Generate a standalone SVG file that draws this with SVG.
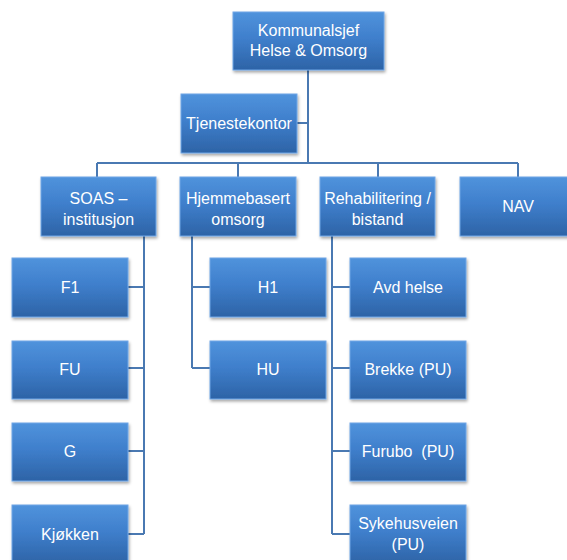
<svg xmlns="http://www.w3.org/2000/svg" width="567" height="560" viewBox="0 0 567 560">
<defs>
<linearGradient id="g" x1="0" y1="0" x2="0" y2="1">
<stop offset="0" stop-color="#5093dc"/>
<stop offset="0.45" stop-color="#3f7fcc"/>
<stop offset="1" stop-color="#2d63a6"/>
</linearGradient>
<filter id="sh" x="-10%" y="-10%" width="125%" height="130%">
<feDropShadow dx="1" dy="2" stdDeviation="1.5" flood-color="#000" flood-opacity="0.35"/>
</filter>
<style>
.b{fill:url(#g);stroke:#6fa6e6;stroke-width:1;filter:url(#sh)}
.t{font-family:"Liberation Sans",Arial,sans-serif;font-size:16px;fill:#fff;text-anchor:middle}
.c{fill:none;stroke:#4a79b2;stroke-width:2}
</style>
</defs>
<rect width="567" height="560" fill="#fff"/>
<g id="connectors">
<path class="c" d="M308,70 V163 M297,123 H308 M97,163 H518 M97,163 V177 M238,163 V177 M378,163 V177 M518,163 V177"/>
<path class="c" d="M144,236 V534 M128,287 H144 M128,368 H144 M128,451 H144 M128,534 H144"/>
<path class="c" d="M192,236 V368 M192,287 H210 M192,368 H210"/>
<path class="c" d="M332,236 V534 M332,287 H350 M332,368 H350 M332,451 H350 M332,534 H350"/>
</g>
<g id="kommunalsjef"><rect class="b" x="233" y="12" width="151" height="58"/><text class="t" x="308.5" y="36">Kommunalsjef</text><text class="t" x="308.5" y="56">Helse &amp; Omsorg</text></g>
<g id="tjenestekontor"><rect class="b" x="181" y="94" width="116" height="59"/><text class="t" x="239" y="129">Tjenestekontor</text></g>
<g id="soas"><rect class="b" x="41" y="177" width="115" height="59"/><text class="t" x="98.5" y="204">SOAS –</text><text class="t" x="98.5" y="225">institusjon</text></g>
<g id="hjemmebasert"><rect class="b" x="180" y="177" width="116" height="59"/><text class="t" x="238" y="204">Hjemmebasert</text><text class="t" x="238" y="225">omsorg</text></g>
<g id="rehab"><rect class="b" x="320" y="177" width="115" height="59"/><text class="t" x="377.5" y="204">Rehabilitering /</text><text class="t" x="377.5" y="225">bistand</text></g>
<g id="nav"><rect class="b" x="460" y="177" width="116" height="59"/><text class="t" x="518" y="212">NAV</text></g>
<g id="f1"><rect class="b" x="12" y="258" width="116" height="59"/><text class="t" x="70" y="293">F1</text></g>
<g id="fu"><rect class="b" x="12" y="341" width="116" height="58"/><text class="t" x="70" y="375">FU</text></g>
<g id="g-node"><rect class="b" x="12" y="423" width="116" height="58"/><text class="t" x="70" y="457">G</text></g>
<g id="kjokken"><rect class="b" x="12" y="505" width="116" height="59"/><text class="t" x="70" y="540">Kjøkken</text></g>
<g id="h1"><rect class="b" x="210" y="258" width="116" height="59"/><text class="t" x="268" y="293">H1</text></g>
<g id="hu"><rect class="b" x="210" y="341" width="116" height="58"/><text class="t" x="268" y="375">HU</text></g>
<g id="avdhelse"><rect class="b" x="350" y="258" width="116" height="59"/><text class="t" x="408" y="293">Avd helse</text></g>
<g id="brekke"><rect class="b" x="350" y="341" width="116" height="58"/><text class="t" x="408" y="375">Brekke (PU)</text></g>
<g id="furubo"><rect class="b" x="350" y="423" width="116" height="58"/><text class="t" x="408" y="457" xml:space="preserve">Furubo  (PU)</text></g>
<g id="sykehusveien"><rect class="b" x="350" y="505" width="116" height="59"/><text class="t" x="408" y="529">Sykehusveien</text><text class="t" x="408" y="550">(PU)</text></g>
</svg>
